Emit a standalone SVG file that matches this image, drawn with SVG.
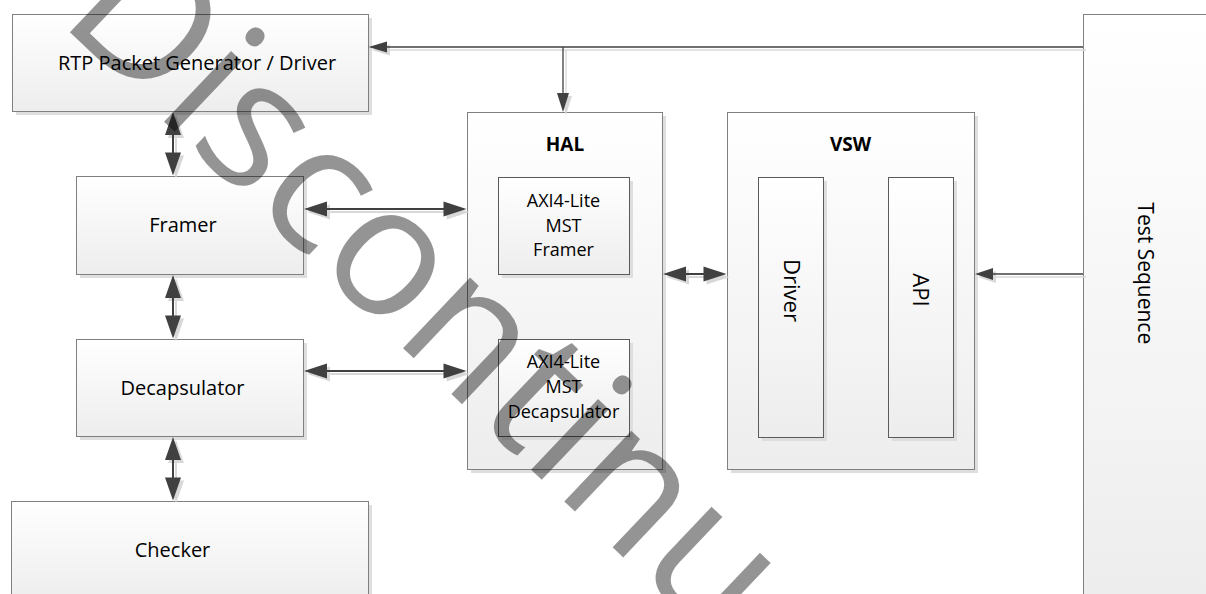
<svg xmlns="http://www.w3.org/2000/svg" xmlns:xlink="http://www.w3.org/1999/xlink" width="1206" height="594" viewBox="0 0 1206 594">
  <defs>
    <linearGradient id="boxfill" x1="0" y1="0" x2="0" y2="1">
      <stop offset="0" stop-color="#ffffff"/>
      <stop offset="1" stop-color="#ededed"/>
    </linearGradient>
    <style>
      .box { fill: url(#boxfill); stroke: #808080; stroke-width: 1; }
      .inner { fill: url(#boxfill); stroke: #5a5a5a; stroke-width: 1; }
      .sh { fill: #dedede; stroke: none; }
      .lbl { font-family: "Open Sans", "Liberation Sans", sans-serif; fill: #000; text-anchor: middle; }
      .b20 { font-size: 20px; }
      .s18 { font-size: 18px; }
      .hd { font-size: 19px; font-weight: bold; }
      .rot { font-size: 22px; }
      .cl { stroke: currentColor; fill: none; stroke-width: 2; }
      .ct { stroke: currentColor; fill: none; stroke-width: 1.3; }
      .ch { fill: currentColor; stroke: none; }
      .wm { font-family: "Open Sans", "Liberation Sans", sans-serif; font-size: 182px; fill: #000; fill-opacity: 0.42; }
    </style>
  </defs>
  <rect width="1206" height="594" fill="#ffffff"/>

  <g id="rtp">
    <rect class="sh" x="16" y="18" width="356" height="97"/>
    <rect class="box" x="12.5" y="14.5" width="356" height="97"/>
    <text class="lbl b20" x="197" y="70">RTP Packet Generator / Driver</text>
  </g>
  <g id="framer">
    <rect class="sh" x="80" y="180" width="227" height="98"/>
    <rect class="box" x="76.5" y="176.5" width="227" height="98"/>
    <text class="lbl b20" x="183" y="231.5">Framer</text>
  </g>
  <g id="decapsulator">
    <rect class="sh" x="80" y="343" width="227" height="97"/>
    <rect class="box" x="76.5" y="339.5" width="227" height="97"/>
    <text class="lbl b20" x="182.5" y="395">Decapsulator</text>
  </g>
  <g id="checker">
    <rect class="sh" x="15" y="505" width="357" height="100"/>
    <rect class="box" x="11.5" y="501.5" width="357" height="100"/>
    <text class="lbl b20" x="172.5" y="557">Checker</text>
  </g>
  <g id="hal">
    <rect class="sh" x="471" y="116" width="195" height="357"/>
    <rect class="box" x="467.5" y="112.5" width="195" height="357"/>
    <text class="lbl hd" x="565" y="150.5">HAL</text>
    <g id="axi-framer">
      <rect class="sh" x="502" y="181" width="131" height="97"/>
      <rect class="inner" x="498.5" y="177.5" width="131" height="97"/>
      <text class="lbl s18" x="563.5" y="206.5">AXI4-Lite</text>
      <text class="lbl s18" x="563.5" y="231.5">MST</text>
      <text class="lbl s18" x="563.5" y="256">Framer</text>
    </g>
    <g id="axi-decapsulator">
      <rect class="sh" x="502" y="343" width="131" height="97"/>
      <rect class="inner" x="498.5" y="339.5" width="131" height="97"/>
      <text class="lbl s18" x="563.5" y="368.3">AXI4-Lite</text>
      <text class="lbl s18" x="563.5" y="393.3">MST</text>
      <text class="lbl s18" x="563.5" y="418.3">Decapsulator</text>
    </g>
  </g>
  <g id="vsw">
    <rect class="sh" x="731" y="116" width="247" height="357"/>
    <rect class="box" x="727.5" y="112.5" width="247" height="357"/>
    <text class="lbl hd" x="850.5" y="150.7">VSW</text>
    <g id="driver">
      <rect class="sh" x="762" y="181" width="65" height="260"/>
      <rect class="inner" x="758.5" y="177.5" width="65" height="260"/>
      <text class="lbl rot" transform="translate(783.5,290.5) rotate(90)">Driver</text>
    </g>
    <g id="api">
      <rect class="sh" x="892" y="181" width="65" height="260"/>
      <rect class="inner" x="888.5" y="177.5" width="65" height="260"/>
      <text class="lbl rot" transform="translate(913,290) rotate(90)">API</text>
    </g>
  </g>
  <g id="test-sequence">
    <rect class="box" x="1083.5" y="14.5" width="130" height="592"/>
    <text class="lbl" style="font-size:21px" transform="translate(1138,273.3) rotate(90)">Test Sequence</text>
  </g>

  <g id="connectors">
    <use xlink:href="#conn-shapes" href="#conn-shapes" transform="translate(3,3)" style="color:#d8d8d8"/>
    <g style="color:#404040">
      <g id="conn-shapes">
        <!-- Test Sequence -> RTP -->
        <path class="ct" d="M1083,47 H386"/>
        <path class="ch" d="M368.5,47 L387,41.5 L387,52.5 Z"/>
        <!-- branch -> HAL -->
        <path class="ct" d="M563,47 V94"/>
        <path class="ch" d="M563,112 L557,93 L569,93 Z"/>
        <!-- Test Sequence -> VSW -->
        <path class="ct" d="M1083,274 H992"/>
        <path class="ch" d="M975,274 L993,268 L993,280 Z"/>
        <!-- Framer <-> HAL -->
        <path class="cl" d="M325,209 H445"/>
        <path class="ch" d="M304,209 L327,201.5 L327,216.5 Z M466.5,209 L443.5,201.5 L443.5,216.5 Z"/>
        <!-- Decapsulator <-> HAL -->
        <path class="cl" d="M325,371 H445"/>
        <path class="ch" d="M304,371 L327,363.5 L327,378.5 Z M466.5,371 L443.5,363.5 L443.5,378.5 Z"/>
        <!-- HAL <-> VSW -->
        <path class="cl" d="M684,274 H706"/>
        <path class="ch" d="M663,274 L686,266.5 L686,281.5 Z M726.5,274 L703.5,266.5 L703.5,281.5 Z"/>
        <!-- RTP <-> Framer -->
        <path class="cl" d="M173,133 V155"/>
        <path class="ch" d="M173,112 L165,135 L181,135 Z M173,175.5 L165,152.5 L181,152.5 Z"/>
        <!-- Framer <-> Decapsulator -->
        <path class="cl" d="M173,296 V318"/>
        <path class="ch" d="M173,275 L165,298 L181,298 Z M173,338.5 L165,315.5 L181,315.5 Z"/>
        <!-- Decapsulator <-> Checker -->
        <path class="cl" d="M173,458 V480"/>
        <path class="ch" d="M173,437 L165,460 L181,460 Z M173,500.5 L165,477.5 L181,477.5 Z"/>
      </g>
    </g>
  </g>

  <text id="watermark" class="wm" transform="translate(57,20) rotate(43.5)">Discontinued</text>
</svg>
